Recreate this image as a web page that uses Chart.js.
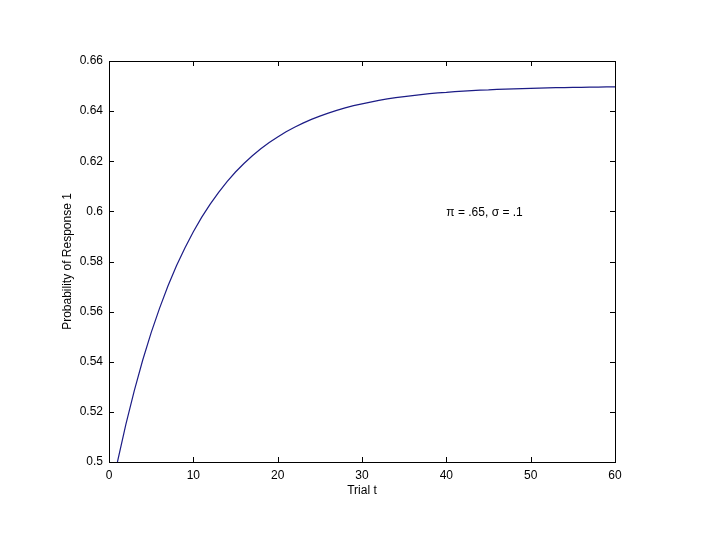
<!DOCTYPE html>
<html>
<head>
<meta charset="utf-8">
<script src="https://cdn.jsdelivr.net/npm/chart.js@4/dist/chart.umd.min.js"></script>
<style>
  html, body { margin: 0; padding: 0; background: #fff; }
  #wrap { width: 720px; height: 540px; }
</style>
</head>
<body>
<div id="wrap"><canvas id="chart" width="720" height="540"></canvas></div>
<script>
// trial numbers and probability
const trials = [];
for (let t = 1; t <= 60; t++) trials.push(t);
const probability = [
  0.5, 0.515, 0.5285, 0.5407, 0.5516, 0.5614, 0.5703, 0.5783, 0.5854, 0.5919,
  0.5977, 0.6029, 0.6076, 0.6119, 0.6157, 0.6191, 0.6222, 0.625, 0.6275, 0.6297,
  0.6318, 0.6336, 0.6352, 0.6367, 0.638, 0.6392, 0.6403, 0.6413, 0.6422, 0.6429,
  0.6436, 0.6443, 0.6449, 0.6454, 0.6458, 0.6462, 0.6466, 0.647, 0.6473, 0.6475,
  0.6478, 0.648, 0.6482, 0.6484, 0.6485, 0.6487, 0.6488, 0.6489, 0.649, 0.6491,
  0.6492, 0.6493, 0.6494, 0.6494, 0.6495, 0.6495, 0.6496, 0.6496, 0.6497, 0.6497
];
const xTicks = [0, 10, 20, 30, 40, 50, 60];
const yTicks = [0.5, 0.52, 0.54, 0.56, 0.58, 0.6, 0.62, 0.64, 0.66];
const xTitle = "Trial t";
const yTitle = "Probability of Response 1";
const noteText = "\u03c0 = .65, \u03c3 = .1";
const notePos = [40, 0.6];

const font = "Liberation Sans, Arial, sans-serif";

// box + inward ticks like matlab, axis titles and the text note
const matlabBox = {
  id: "matlabBox",
  afterDraw(chart) {
    const { ctx, chartArea: a, scales } = chart;
    const x = scales.x, y = scales.y;
    ctx.save();
    ctx.strokeStyle = "#000";
    ctx.lineWidth = 1;
    ctx.strokeRect(Math.round(a.left) + 0.5, Math.round(a.top) + 0.5,
      Math.round(a.right - a.left), Math.round(a.bottom - a.top));
    ctx.beginPath();
    const len = 5;
    xTicks.forEach(v => {
      const px = Math.round(x.getPixelForValue(v)) + 0.5;
      ctx.moveTo(px, a.bottom); ctx.lineTo(px, a.bottom - len);
      ctx.moveTo(px, a.top); ctx.lineTo(px, a.top + len);
    });
    yTicks.forEach(v => {
      const py = Math.round(y.getPixelForValue(v)) + 0.5;
      ctx.moveTo(a.left, py); ctx.lineTo(a.left + len, py);
      ctx.moveTo(a.right, py); ctx.lineTo(a.right - len, py);
    });
    ctx.stroke();

    ctx.fillStyle = "#000";
    ctx.font = "12px " + font;
    ctx.textAlign = "center";
    ctx.textBaseline = "middle";
    ctx.fillText(xTitle, (a.left + a.right) / 2, a.bottom + 29);
    ctx.save();
    ctx.translate(a.left - 41, (a.top + a.bottom) / 2);
    ctx.rotate(-Math.PI / 2);
    ctx.fillText(yTitle, 0, 0);
    ctx.restore();

    ctx.textAlign = "left";
    ctx.fillText(noteText, x.getPixelForValue(notePos[0]), y.getPixelForValue(notePos[1]) + 1);
    ctx.restore();
  }
};

new Chart(document.getElementById("chart"), {
  type: "line",
  data: {
    datasets: [{
      data: trials.map((t, i) => ({ x: t, y: probability[i] })),
      borderColor: "#1c1c86",
      borderWidth: 1.2,
      pointRadius: 0,
      tension: 0,
      fill: false
    }]
  },
  options: {
    responsive: false,
    animation: false,
    layout: { padding: { left: 0, top: 61, right: 105, bottom: 0 } },
    plugins: { legend: { display: false }, tooltip: { enabled: false } },
    scales: {
      x: {
        type: "linear",
        min: 0,
        max: 60,
        afterFit: s => { s.height = 78; },
        afterBuildTicks: s => { s.ticks = xTicks.map(v => ({ value: v })); },
        grid: { display: false, drawTicks: false },
        border: { display: false },
        ticks: { color: "#000", padding: 6, font: { family: font, size: 12 } }
      },
      y: {
        min: 0.5,
        max: 0.66,
        afterFit: s => { s.width = 109; },
        afterBuildTicks: s => { s.ticks = yTicks.map(v => ({ value: v })); },
        grid: { display: false, drawTicks: false },
        border: { display: false },
        ticks: { color: "#000", padding: 6, font: { family: font, size: 12 },
          callback: v => String(+v.toFixed(2)) }
      }
    }
  },
  plugins: [matlabBox]
});
</script>
</body>
</html>
